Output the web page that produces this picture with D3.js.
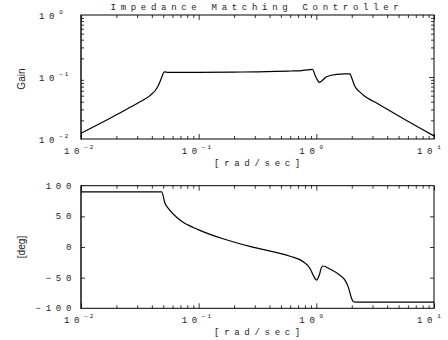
<!DOCTYPE html>
<html>
<head>
<meta charset="utf-8">
<script src="https://cdn.jsdelivr.net/npm/d3@7"></script>
<style>
body { margin: 0; background: #fff; }
svg { display: block; }
.mono { font-family: "Liberation Mono", "DejaVu Sans Mono", monospace; font-size: 9px; letter-spacing: 4.7px; fill: #222; }
.ylab { font-family: "Liberation Sans", Arial, sans-serif; font-size: 11px; fill: #222; }
</style>
</head>
<body>
<svg width="448" height="340"></svg>
<script>
// frequency response
const gainFreq = [0.01, 0.0214, 0.0261, 0.0317, 0.0386, 0.0445, 0.0469, 0.0491, 0.051, 0.055, 0.07, 0.1, 0.2, 0.3, 0.45, 0.6, 0.75, 0.85, 0.93, 0.973, 1.02, 1.058, 1.109, 1.22, 1.49, 1.75, 1.93, 2.0, 2.13, 2.3, 2.5, 3.36, 5.55, 10]
const gainValues = [0.0124, 0.0263, 0.0324, 0.0398, 0.0501, 0.0676, 0.084, 0.105, 0.121, 0.119, 0.119, 0.119, 0.12, 0.121, 0.123, 0.125, 0.127, 0.13, 0.133, 0.108, 0.09, 0.082, 0.086, 0.101, 0.1106, 0.112, 0.112, 0.096, 0.07, 0.059, 0.0513, 0.0367, 0.021, 0.0112]

const phaseFreq = [0.01, 0.0485, 0.0518, 0.0552, 0.0694, 0.1, 0.164, 0.3, 0.597, 0.774, 0.883, 0.94, 1.006, 1.058, 1.109, 1.145, 1.305, 1.587, 1.75, 1.866, 1.995, 2.058, 2.15, 10]
const phaseValues = [90, 90, 71, 63, 44, 28, 13, -1, -15, -24, -35, -46, -54, -46, -33, -31, -36, -46, -54, -65, -84, -89, -90, -90]

const decadeTicks = [0.01, 0.1, 1, 10]
const decadeExp = ['\u22122', '\u22121', '0', '1']
const gainTicks = [0.01, 0.1, 1]
const gainExp = ['\u22122', '\u22121', '0']
const phaseTicks = [-100, -50, 0, 50, 100]

const svg = d3.select('svg')
const left = 81, right = 434

const x = d3.scaleLog().domain([0.01, 10]).range([left, right])
const yGain = d3.scaleLog().domain([0.01, 1]).range([139, 15])
const yPhase = d3.scaleLinear().domain([-100, 100]).range([308.3, 185.7])

// minor ticks between decades
const minorX = []
for (let d = 0.01; d < 10; d *= 10) for (let k = 2; k < 10; k++) minorX.push(d * k)
const minorGain = []
for (let d = 0.01; d < 1; d *= 10) for (let k = 2; k < 10; k++) minorGain.push(d * k)

function frame(yScale, top, bottom) {
    const g = svg.append('g')
    // minor ticks, bottom and top
    g.append('g').attr('transform', `translate(0,${bottom})`)
        .call(d3.axisBottom(x).tickValues(minorX).tickSize(-3).tickFormat(''))
    g.append('g').attr('transform', `translate(0,${top})`)
        .call(d3.axisTop(x).tickValues(minorX).tickSize(-3).tickFormat(''))
    g.append('g').attr('transform', `translate(0,${bottom})`)
        .call(d3.axisBottom(x).tickValues(decadeTicks).tickSize(-5).tickFormat(''))
    g.append('g').attr('transform', `translate(0,${top})`)
        .call(d3.axisTop(x).tickValues(decadeTicks).tickSize(-5).tickFormat(''))
    g.selectAll('.domain').remove()
    g.selectAll('line').attr('stroke', '#000').attr('stroke-width', 0.8)

    // x tick labels 10^n
    g.selectAll('.xlab')
        .data(decadeTicks)
        .enter()
        .append('text')
        .attr('class', 'mono')
        .attr('x', d => x(d) - 17)
        .attr('y', bottom + 15)
        .each(function (d, i) {
            const t = d3.select(this)
            t.append('tspan').text('10')
            t.append('tspan').attr('dy', -5).style('font-size', '6px').style('letter-spacing', '2px').text(decadeExp[i])
        })

    g.append('text')
        .attr('class', 'mono')
        .attr('x', (left + right) / 2 + 2)
        .attr('y', bottom + 27)
        .attr('text-anchor', 'middle')
        .text('[rad/sec]')

    // box
    g.append('rect')
        .attr('x', left).attr('y', top)
        .attr('width', right - left).attr('height', bottom - top)
        .attr('fill', 'none').attr('stroke', '#000').attr('stroke-width', 1)
    g.append('line')
        .attr('x1', left).attr('x2', left)
        .attr('y1', top).attr('y2', bottom + 0.5)
        .attr('stroke', '#000').attr('stroke-width', 2)
    return g
}

// ---- gain panel
const gTop = frame(yGain, 15, 139)
gTop.append('g').attr('transform', `translate(${left},0)`)
    .call(d3.axisLeft(yGain).tickValues(minorGain).tickSize(-3).tickFormat(''))
gTop.append('g').attr('transform', `translate(${right},0)`)
    .call(d3.axisRight(yGain).tickValues(minorGain).tickSize(-3).tickFormat(''))
gTop.append('g').attr('transform', `translate(${right},0)`)
    .call(d3.axisRight(yGain).tickValues([0.1]).tickSize(-5).tickFormat(''))
gTop.selectAll('.domain').remove()
gTop.selectAll('g line').attr('stroke', '#000').attr('stroke-width', 0.8)

gTop.selectAll('.ylabTick')
    .data(gainTicks)
    .enter()
    .append('text')
    .attr('class', 'mono')
    .attr('x', 39)
    .attr('y', d => yGain(d) + 4)
    .each(function (d, i) {
        const t = d3.select(this)
        t.append('tspan').text('10')
        t.append('tspan').attr('dy', -5).style('font-size', '6px').style('letter-spacing', '2px').text(gainExp[i])
    })

svg.append('text')
    .attr('class', 'mono')
    .attr('x', 257)
    .attr('y', 10)
    .attr('text-anchor', 'middle')
    .text('Impedance Matching Controller')

svg.append('text')
    .attr('class', 'ylab')
    .attr('transform', 'translate(25,79) rotate(-90) scale(0.92,1)')
    .attr('text-anchor', 'middle')
    .text('Gain')

const gainLine = d3.line()
    .x(d => x(d[0]))
    .y(d => yGain(d[1]))
    .curve(d3.curveMonotoneX)

svg.append('path')
    .datum(d3.zip(gainFreq, gainValues))
    .attr('d', gainLine)
    .attr('fill', 'none')
    .attr('stroke', '#000')
    .attr('stroke-width', 1.2)

// ---- phase panel
const gBot = frame(yPhase, 185.7, 308.3)
gBot.append('g').attr('transform', `translate(${left},0)`)
    .call(d3.axisLeft(yPhase).tickValues([-50, 0, 50]).tickSize(-4).tickFormat(''))
gBot.append('g').attr('transform', `translate(${right},0)`)
    .call(d3.axisRight(yPhase).tickValues([-50, 0, 50]).tickSize(-4).tickFormat(''))
gBot.selectAll('.domain').remove()
gBot.selectAll('g line').attr('stroke', '#000').attr('stroke-width', 0.8)

gBot.selectAll('.plab')
    .data(phaseTicks)
    .enter()
    .append('text')
    .attr('class', 'mono')
    .attr('x', 76)
    .attr('y', d => yPhase(d) + 3)
    .attr('text-anchor', 'end')
    .text(d => d < 0 ? '\u2212' + Math.abs(d) : d)

svg.append('text')
    .attr('class', 'ylab')
    .attr('transform', 'translate(25,247) rotate(-90) scale(0.92,1)')
    .attr('text-anchor', 'middle')
    .text('[deg]')

const phaseLine = d3.line()
    .x(d => x(d[0]))
    .y(d => yPhase(d[1]))
    .curve(d3.curveMonotoneX)

svg.append('path')
    .datum(d3.zip(phaseFreq, phaseValues))
    .attr('d', phaseLine)
    .attr('fill', 'none')
    .attr('stroke', '#000')
    .attr('stroke-width', 1.2)
</script>
</body>
</html>
